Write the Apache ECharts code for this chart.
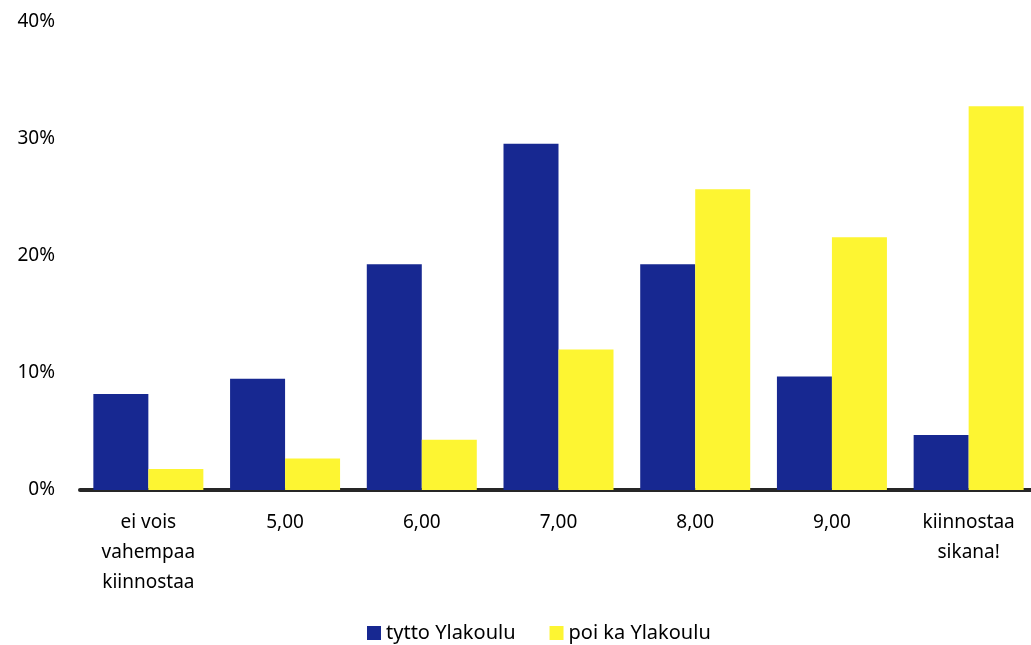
<!DOCTYPE html>
<html>
<head>
<meta charset="utf-8">
<script src="https://cdn.jsdelivr.net/npm/echarts@6/dist/echarts.min.js"></script>
<style>html,body{margin:0;padding:0;background:#fff;}#c{width:1031px;height:645px;}</style>
</head>
<body>
<div id="c"></div>
<script>
const categories = ['ei vois\nvahempaa\nkiinnostaa', '5,00', '6,00', '7,00', '8,00', '9,00', 'kiinnostaa\nsikana!'];
const seriesNames = ['tytto Ylakoulu', 'poi ka Ylakoulu'];
const tytto = [8.2, 9.5, 19.3, 29.6, 19.3, 9.7, 4.7];
const poika = [1.8, 2.7, 4.3, 12.0, 25.7, 21.6, 32.8];
const yTicks = [0, 10, 20, 30, 40];

const chart = echarts.init(document.getElementById('c'), null, {renderer: 'canvas'});
const font = 'Noto Sans';
chart.setOption({
  animation: false,
  backgroundColor: '#ffffff',
  textStyle: {fontFamily: font},
  grid: {left: 80, top: 22, width: 957, height: 468, containLabel: false, outerBoundsMode: 'none'},
  legend: {
    data: seriesNames,
    left: 362, top: 618,
    itemWidth: 14, itemHeight: 14, itemGap: 34,
    icon: 'rect',
    textStyle: {fontFamily: font, fontSize: 20, color: '#000'}
  },
  xAxis: {
    type: 'category',
    data: categories,
    axisLine: {show: true, lineStyle: {color: '#262626', width: 4}},
    axisTick: {show: false},
    axisLabel: {fontFamily: font, fontSize: 19, color: '#000', lineHeight: 30, margin: 18, interval: 0, hideOverlap: false}
  },
  yAxis: {
    type: 'value',
    min: yTicks[0], max: yTicks[yTicks.length - 1], interval: 10,
    splitLine: {show: false},
    axisLine: {show: false},
    axisTick: {show: false},
    axisLabel: {fontFamily: font, fontSize: 19, color: '#000', margin: 25, formatter: v => v + '%'}
  },
  series: [
    {name: seriesNames[0], type: 'bar', data: tytto, barWidth: 55, barGap: '0%', itemStyle: {color: '#172891'}},
    {name: seriesNames[1], type: 'bar', data: poika, barWidth: 55, barGap: '0%', itemStyle: {color: '#fdf532'}}
  ]
});
</script>
</body>
</html>
